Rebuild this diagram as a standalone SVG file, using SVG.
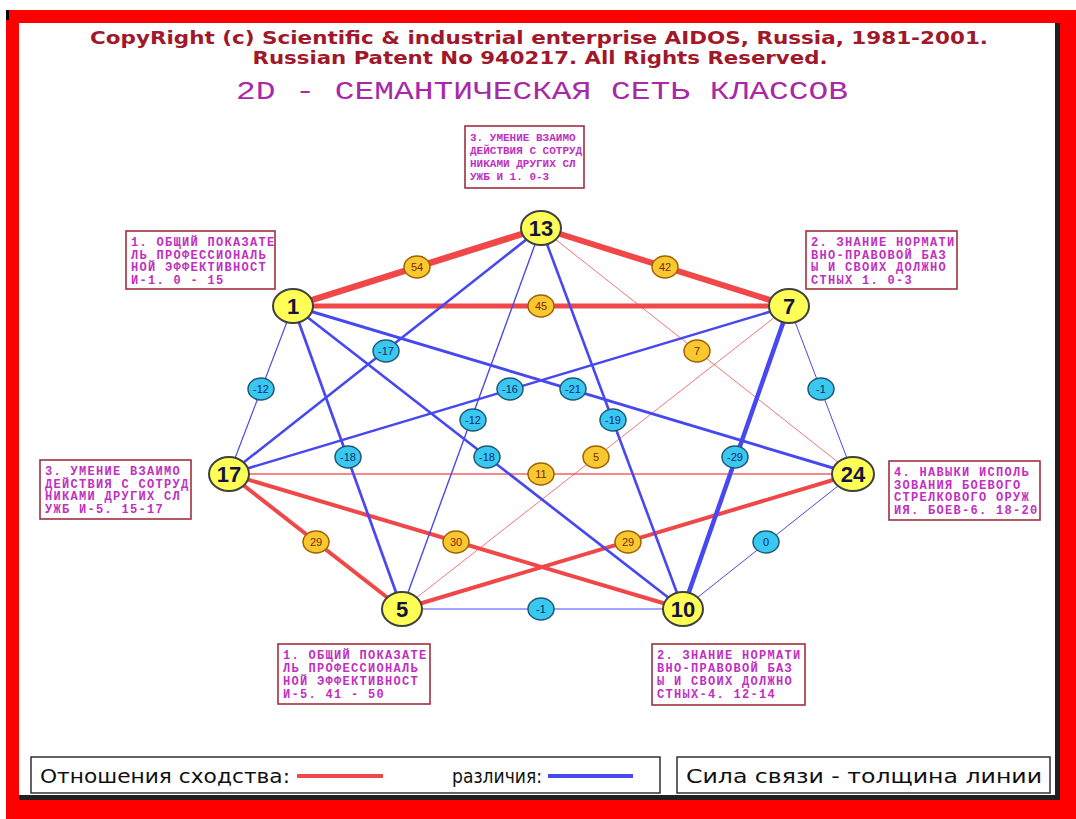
<svg xmlns="http://www.w3.org/2000/svg" width="1076" height="819" viewBox="0 0 1076 819">
<style>
.hdr{font-family:"DejaVu Sans Condensed","Liberation Sans",sans-serif;font-weight:bold;fill:#a0182a;font-size:17px}
.ttl{font-family:"Liberation Mono","DejaVu Sans Mono",monospace;fill:#a828a8;font-size:25px}
.box rect{fill:#ffffff;stroke:#a03040;stroke-width:1.6}
.box text{font-family:"Liberation Mono","DejaVu Sans Mono",monospace;font-weight:bold;fill:#c030c0;font-size:12px;letter-spacing:1.3px}
.box.small text{font-size:11px;letter-spacing:0px}
.node ellipse{fill:#ffff55;stroke:#404040;stroke-width:2}
.node text{font-family:"Liberation Sans","DejaVu Sans",sans-serif;font-weight:bold;font-size:22px;fill:#14143c;text-anchor:middle}
.r{stroke:#f04848;fill:none}
.b{stroke:#4848f0;fill:none}
.rl ellipse{fill:#f8c830;stroke:#a06000;stroke-width:1.5}
.bl ellipse{fill:#38c8f0;stroke:#205878;stroke-width:1.5}
.rl text,.bl text{font-family:"Liberation Sans","DejaVu Sans",sans-serif;font-size:11px;text-anchor:middle}
.rl text{fill:#7a2a00}
.bl text{fill:#102a70}
.leg{font-family:"DejaVu Sans Condensed","Liberation Sans",sans-serif;font-size:19px;fill:#101010}
</style>
<rect width="1076" height="819" fill="#ffffff"/>
<!-- frame -->
<rect x="6" y="10" width="1070" height="809" fill="#ff0000"/>
<rect x="19" y="23" width="1041" height="777" fill="#202020"/>
<rect x="19" y="23" width="1036" height="772" fill="#ffffff"/>
<rect x="6" y="10" width="3" height="10" fill="#000000"/>

<text class="hdr" x="539" y="44" text-anchor="middle" textLength="898" lengthAdjust="spacingAndGlyphs">CopyRight (c) Scientific &amp; industrial enterprise AIDOS, Russia, 1981-2001.</text>
<text class="hdr" x="540" y="64" text-anchor="middle" textLength="575" lengthAdjust="spacingAndGlyphs">Russian Patent No 940217. All Rights Reserved.</text>
<text class="ttl" x="542" y="99" text-anchor="middle" textLength="612" lengthAdjust="spacingAndGlyphs">2D - СЕМАНТИЧЕСКАЯ СЕТЬ КЛАССОВ</text>

<g id="connectors">
<!-- red -->
<line class="r" x1="293" y1="306" x2="541" y2="228" stroke-width="6.5"/>
<line class="r" x1="541" y1="228" x2="789" y2="306" stroke-width="6"/>
<line class="r" x1="293" y1="306" x2="789" y2="306" stroke-width="5"/>
<line class="r" x1="541" y1="228" x2="853" y2="474" stroke-width="1" stroke-opacity="0.75"/>
<line class="r" x1="229" y1="474" x2="853" y2="474" stroke-width="1.3" stroke-opacity="0.85"/>
<line class="r" x1="789" y1="306" x2="402" y2="609" stroke-width="1" stroke-opacity="0.75"/>
<line class="r" x1="229" y1="474" x2="402" y2="609" stroke-width="4"/>
<line class="r" x1="229" y1="474" x2="683" y2="609" stroke-width="4"/>
<line class="r" x1="853" y1="474" x2="402" y2="609" stroke-width="4"/>
<!-- blue -->
<line class="b" x1="293" y1="306" x2="229" y2="474" stroke-width="1.2"/>
<line class="b" x1="541" y1="228" x2="229" y2="474" stroke-width="2.6"/>
<line class="b" x1="789" y1="306" x2="229" y2="474" stroke-width="2.5"/>
<line class="b" x1="293" y1="306" x2="853" y2="474" stroke-width="2.9"/>
<line class="b" x1="541" y1="228" x2="402" y2="609" stroke-width="1.4"/>
<line class="b" x1="541" y1="228" x2="683" y2="609" stroke-width="2.6"/>
<line class="b" x1="293" y1="306" x2="402" y2="609" stroke-width="2.7"/>
<line class="b" x1="293" y1="306" x2="683" y2="609" stroke-width="2.7"/>
<line class="b" x1="789" y1="306" x2="683" y2="609" stroke-width="4.5"/>
<line class="b" x1="789" y1="306" x2="853" y2="474" stroke-width="1"/>
<line class="b" x1="853" y1="474" x2="683" y2="609" stroke-width="1"/>
<line class="b" x1="402" y1="609" x2="683" y2="609" stroke-width="1"/>
</g>

<g id="edge-labels">
<g class="rl"><ellipse cx="417" cy="267" rx="13" ry="11"/><text x="417" y="271">54</text></g>
<g class="rl"><ellipse cx="665" cy="267" rx="13" ry="11"/><text x="665" y="271">42</text></g>
<g class="rl"><ellipse cx="541" cy="306" rx="13" ry="11"/><text x="541" y="310">45</text></g>
<g class="rl"><ellipse cx="697" cy="351" rx="13" ry="11"/><text x="697" y="355">7</text></g>
<g class="rl"><ellipse cx="541" cy="474" rx="13" ry="11"/><text x="541" y="478">11</text></g>
<g class="rl"><ellipse cx="596" cy="457" rx="13" ry="11"/><text x="596" y="461">5</text></g>
<g class="rl"><ellipse cx="316" cy="542" rx="13" ry="11"/><text x="316" y="546">29</text></g>
<g class="rl"><ellipse cx="456" cy="542" rx="13" ry="11"/><text x="456" y="546">30</text></g>
<g class="rl"><ellipse cx="628" cy="542" rx="13" ry="11"/><text x="628" y="546">29</text></g>
<g class="bl"><ellipse cx="261" cy="389" rx="13" ry="11"/><text x="261" y="393">-12</text></g>
<g class="bl"><ellipse cx="386" cy="351" rx="13" ry="11"/><text x="386" y="355">-17</text></g>
<g class="bl"><ellipse cx="510" cy="389" rx="13" ry="11"/><text x="510" y="393">-16</text></g>
<g class="bl"><ellipse cx="573" cy="389" rx="13" ry="11"/><text x="573" y="393">-21</text></g>
<g class="bl"><ellipse cx="473" cy="420" rx="13" ry="11"/><text x="473" y="424">-12</text></g>
<g class="bl"><ellipse cx="613" cy="420" rx="13" ry="11"/><text x="613" y="424">-19</text></g>
<g class="bl"><ellipse cx="348" cy="457" rx="13" ry="11"/><text x="348" y="461">-18</text></g>
<g class="bl"><ellipse cx="487" cy="457" rx="13" ry="11"/><text x="487" y="461">-18</text></g>
<g class="bl"><ellipse cx="735" cy="457" rx="13" ry="11"/><text x="735" y="461">-29</text></g>
<g class="bl"><ellipse cx="821" cy="389" rx="13" ry="11"/><text x="821" y="393">-1</text></g>
<g class="bl"><ellipse cx="766" cy="542" rx="13" ry="11"/><text x="766" y="546">0</text></g>
<g class="bl"><ellipse cx="541" cy="609" rx="13" ry="11"/><text x="541" y="613">-1</text></g>
</g>

<g id="node-13" class="node"><ellipse cx="541" cy="228" rx="20" ry="17"/><text x="541" y="236">13</text></g>
<g id="node-1" class="node"><ellipse cx="293" cy="306" rx="20" ry="17"/><text x="293" y="314">1</text></g>
<g id="node-7" class="node"><ellipse cx="789" cy="306" rx="20" ry="17"/><text x="789" y="314">7</text></g>
<g id="node-17" class="node"><ellipse cx="229" cy="474" rx="20" ry="17"/><text x="229" y="482">17</text></g>
<g id="node-24" class="node"><ellipse cx="853" cy="474" rx="21" ry="17"/><text x="853" y="482">24</text></g>
<g id="node-5" class="node"><ellipse cx="402" cy="609" rx="20" ry="17"/><text x="402" y="617">5</text></g>
<g id="node-10" class="node"><ellipse cx="683" cy="609" rx="20" ry="17"/><text x="683" y="617">10</text></g>

<g id="box-13" class="box small"><rect x="465" y="126" width="119" height="62"/>
<text x="470" y="141">3. УМЕНИЕ ВЗАИМО</text><text x="470" y="154">ДЕЙСТВИЯ С СОТРУД</text><text x="470" y="167">НИКАМИ ДРУГИХ СЛ</text><text x="470" y="180">УЖБ И 1. 0-3</text></g>
<g id="box-1" class="box"><rect x="126" y="231" width="149" height="58"/>
<text x="131" y="246">1. ОБЩИЙ ПОКАЗАТЕ</text><text x="131" y="259">ЛЬ ПРОФЕССИОНАЛЬ</text><text x="131" y="271">НОЙ ЭФФЕКТИВНОСТ</text><text x="131" y="284">И-1. 0 - 15</text></g>
<g id="box-7" class="box"><rect x="806" y="231" width="151" height="58"/>
<text x="811" y="246">2. ЗНАНИЕ НОРМАТИ</text><text x="811" y="259">ВНО-ПРАВОВОЙ БАЗ</text><text x="811" y="271">Ы И СВОИХ ДОЛЖНО</text><text x="811" y="284">СТНЫХ 1. 0-3</text></g>
<g id="box-17" class="box"><rect x="40" y="460" width="151" height="59"/>
<text x="45" y="475">3. УМЕНИЕ ВЗАИМО</text><text x="45" y="488">ДЕЙСТВИЯ С СОТРУД</text><text x="45" y="500">НИКАМИ ДРУГИХ СЛ</text><text x="45" y="513">УЖБ И-5. 15-17</text></g>
<g id="box-24" class="box"><rect x="889" y="461" width="151" height="59"/>
<text x="894" y="476">4. НАВЫКИ ИСПОЛЬ</text><text x="894" y="489">ЗОВАНИЯ БОЕВОГО</text><text x="894" y="501">СТРЕЛКОВОГО ОРУЖ</text><text x="894" y="514">ИЯ. БОЕВ-6. 18-20</text></g>
<g id="box-5" class="box"><rect x="278" y="644" width="152" height="60"/>
<text x="283" y="659">1. ОБЩИЙ ПОКАЗАТЕ</text><text x="283" y="672">ЛЬ ПРОФЕССИОНАЛЬ</text><text x="283" y="685">НОЙ ЭФФЕКТИВНОСТ</text><text x="283" y="698">И-5. 41 - 50</text></g>
<g id="box-10" class="box"><rect x="652" y="644" width="153" height="61"/>
<text x="657" y="659">2. ЗНАНИЕ НОРМАТИ</text><text x="657" y="672">ВНО-ПРАВОВОЙ БАЗ</text><text x="657" y="685">Ы И СВОИХ ДОЛЖНО</text><text x="657" y="698">СТНЫХ-4. 12-14</text></g>

<g id="legend">
<rect x="31" y="757" width="629" height="36" fill="#ffffff" stroke="#303030" stroke-width="1.5"/>
<text class="leg" x="40" y="783" textLength="250" lengthAdjust="spacingAndGlyphs">Отношения сходства:</text>
<line x1="297" y1="776" x2="383" y2="776" stroke="#f04848" stroke-width="4"/>
<text class="leg" x="452" y="783" textLength="90" lengthAdjust="spacingAndGlyphs">различия:</text>
<line x1="548" y1="776" x2="633" y2="776" stroke="#4848f0" stroke-width="4"/>
<rect x="677" y="757" width="373" height="36" fill="#ffffff" stroke="#303030" stroke-width="1.5"/>
<text class="leg" x="686" y="783" textLength="356" lengthAdjust="spacingAndGlyphs">Сила связи - толщина линии</text>
</g>
</svg>
